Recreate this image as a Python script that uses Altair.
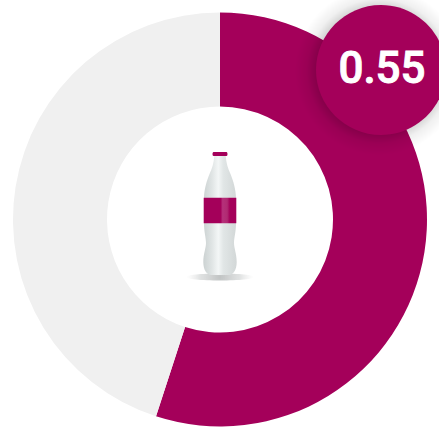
import altair as alt
import pandas as pd

# Share shown by the ring and its remainder
segments = ["share", "rest"]
shares = [0.55, 0.45]
segment_colors = ["#a4005a", "#f0f0f0"]
badge_value = [0.55]

MAGENTA = "#a4005a"
W, H = 439, 429
CX, CY = 220, 219.5
BX, BY = 381, 70
BOTTLE_X, BOTTLE_Y = 220, 214

ring = pd.DataFrame({"segment": segments, "share": shares, "rank": [0, 1]})
badge = pd.DataFrame({"value": badge_value})
one = pd.DataFrame({"k": [0]})

donut = alt.Chart(ring).mark_arc(innerRadius=113, outerRadius=207).encode(
    theta=alt.Theta("share:Q", stack=True),
    order=alt.Order("rank:O"),
    color=alt.Color("segment:N", scale=alt.Scale(domain=segments, range=segment_colors), legend=None),
    x=alt.value(CX),
    y=alt.value(CY),
)


def pictogram(path, fill, x=BOTTLE_X, y=BOTTLE_Y):
    # Vega scales a custom symbol by sqrt(size)/2, so size 4 keeps path units in pixels
    return alt.Chart(one).mark_point(
        shape=path, size=4, filled=True, fill=fill, strokeWidth=0, opacity=1
    ).encode(x=alt.value(x), y=alt.value(y))


def ellipse(rx, ry):
    return (
        f"M{-rx},0 C{-rx},{-ry * 0.55} {-rx * 0.55},{-ry} 0,{-ry} "
        f"C{rx * 0.55},{-ry} {rx},{-ry * 0.55} {rx},0 "
        f"C{rx},{ry * 0.55} {rx * 0.55},{ry} 0,{ry} "
        f"C{-rx * 0.55},{ry} {-rx},{ry * 0.55} {-rx},0 Z"
    )


# Soft drop shadow under the badge
badge_shadow = pictogram(
    ellipse(84, 84),
    alt.RadialGradient(
        gradient="radial", x1=0.5, y1=0.5, r1=0, x2=0.5, y2=0.5, r2=0.5,
        stops=[
            alt.GradientStop(offset=0.0, color="rgba(0,0,0,0.2)"),
            alt.GradientStop(offset=0.76, color="rgba(0,0,0,0.17)"),
            alt.GradientStop(offset=0.86, color="rgba(0,0,0,0.06)"),
            alt.GradientStop(offset=1.0, color="rgba(0,0,0,0)"),
        ],
    ),
    x=BX - 2, y=BY + 1,
)

badge_disc = pictogram(ellipse(65, 65), MAGENTA, x=BX, y=BY)

# A thin white outline gives the medium weight a little more body
badge_text = alt.Chart(badge).mark_text(
    font="Roboto", fontSize=44, fontWeight=500, color="white",
    stroke="white", strokeWidth=0.9, align="center", baseline="middle"
).encode(
    text=alt.Text("value:Q", format=".2f"),
    x=alt.value(382),
    y=alt.value(70),
)

floor_shadow = pictogram(
    ellipse(34, 3.5),
    alt.RadialGradient(
        gradient="radial", x1=0.5, y1=0.5, r1=0, x2=0.5, y2=0.5, r2=0.5,
        stops=[
            alt.GradientStop(offset=0.0, color="rgba(150,155,155,0.6)"),
            alt.GradientStop(offset=0.6, color="rgba(170,175,175,0.35)"),
            alt.GradientStop(offset=1.0, color="rgba(210,210,210,0)"),
        ],
    ),
    y=277,
)

glass = alt.LinearGradient(
    gradient="linear", x1=0, y1=0, x2=1, y2=0,
    stops=[
        alt.GradientStop(offset=0.0, color="#ccd2d2"),
        alt.GradientStop(offset=0.25, color="#dfe4e4"),
        alt.GradientStop(offset=0.45, color="#f3f6f6"),
        alt.GradientStop(offset=0.6, color="#e1e6e6"),
        alt.GradientStop(offset=1.0, color="#d2d7d7"),
    ],
)

# Bottle outline, in pixels around its own centre
bottle_body = pictogram(
    "M-5.7,-58 L5.7,-58 C6.2,-51 8,-45 10.5,-40 C13,-34 16,-24 16,-16 "
    "L16,9 C16,18 14,24 14,29 C14,34 16.7,40 16.7,48 C16.7,56 13,61 9,61 "
    "L-9,61 C-13,61 -16.7,56 -16.7,48 C-16.7,40 -14,34 -14,29 C-14,24 -16,18 -16,9 "
    "L-16,-16 C-16,-24 -13,-34 -10.5,-40 C-8,-45 -6.2,-51 -5.7,-58 Z",
    glass,
)

bottle_cap = pictogram(
    "M-6.5,-62 L6.5,-62 C7.8,-62 7.8,-58 6.5,-58 L-6.5,-58 C-7.8,-58 -7.8,-62 -6.5,-62 Z",
    MAGENTA,
)

bottle_label = pictogram(
    "M-16.3,-16.3 L16.3,-16.3 L16.3,9.3 L-16.3,9.3 Z",
    alt.LinearGradient(
        gradient="linear", x1=0, y1=0, x2=1, y2=0,
        stops=[
            alt.GradientStop(offset=0.0, color=MAGENTA),
            alt.GradientStop(offset=0.52, color=MAGENTA),
            alt.GradientStop(offset=0.58, color="#b5307a"),
            alt.GradientStop(offset=0.72, color="#b02a72"),
            alt.GradientStop(offset=0.8, color=MAGENTA),
            alt.GradientStop(offset=1.0, color=MAGENTA),
        ],
    ),
)

chart = alt.layer(
    donut, badge_shadow, badge_disc, badge_text,
    floor_shadow, bottle_body, bottle_cap, bottle_label,
).properties(
    width=W, height=H, padding=0, autosize=alt.AutoSizeParams(type="none"),
    background="white",
).configure_view(stroke=None)

chart.save("out.html", embed_options={"renderer": "svg", "actions": False})
